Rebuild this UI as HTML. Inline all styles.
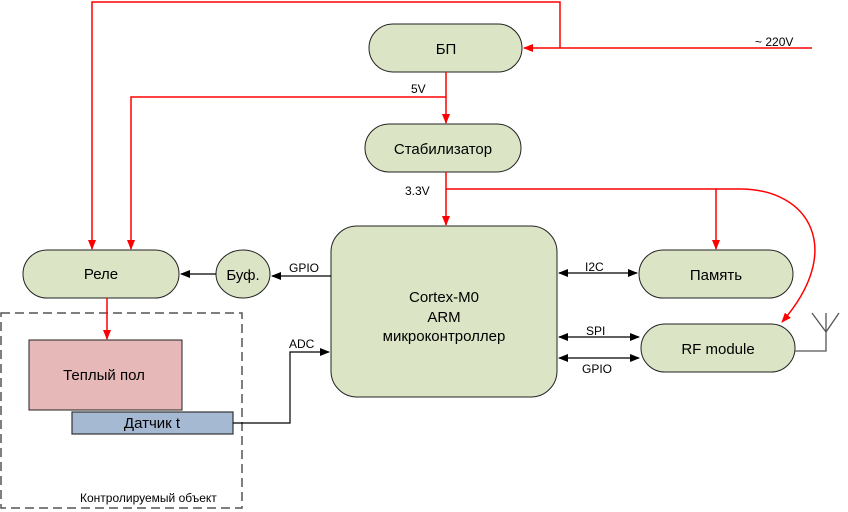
<!DOCTYPE html>
<html><head><meta charset="utf-8"><style>
html,body{margin:0;padding:0;background:#fff;}
svg{display:block;font-family:"Liberation Sans",sans-serif;}
</style></head><body>
<svg width="848" height="512" viewBox="0 0 848 512" xmlns="http://www.w3.org/2000/svg">
<defs>
<marker id="ra" markerWidth="10" markerHeight="10" refX="9" refY="5" orient="auto" markerUnits="userSpaceOnUse"><path d="M0,1 L10,5 L0,9 z" fill="#ff0000"/></marker>
<marker id="ba" markerWidth="10" markerHeight="10" refX="9" refY="5" orient="auto" markerUnits="userSpaceOnUse"><path d="M0,1 L10,5 L0,9 z" fill="#000"/></marker>
<marker id="bs" markerWidth="10" markerHeight="10" refX="1" refY="5" orient="auto" markerUnits="userSpaceOnUse"><path d="M10,1 L0,5 L10,9 z" fill="#000"/></marker>
</defs>
<g fill="#dbe5c6" stroke="#222" stroke-width="1">
<rect x="369" y="24" width="153" height="48" rx="24"/>
<rect x="365" y="124" width="156" height="48" rx="24"/>
<rect x="331" y="226" width="226" height="171" rx="26"/>
<rect x="23" y="250" width="156" height="48" rx="24"/>
<rect x="216" y="250" width="54" height="48" rx="27"/>
<rect x="639" y="250" width="154" height="48" rx="24"/>
<rect x="641" y="324" width="154" height="48" rx="24"/>
</g>
<rect x="1" y="313" width="241" height="195" fill="none" stroke="#555" stroke-width="1.5" stroke-dasharray="9,5"/>
<rect x="29" y="340" width="153" height="70" fill="#e6b8b7" stroke="#222"/>
<rect x="72" y="412" width="161" height="22" fill="#a6b9d3" stroke="#333" stroke-width="1.2"/>
<g stroke="#ff0000" stroke-width="1.5" fill="none">
<path d="M812,48 L524,48" marker-end="url(#ra)"/>
<path d="M560,48 L560,2 L92,2 L92,249" marker-end="url(#ra)"/>
<path d="M446,72 L446,123" marker-end="url(#ra)"/>
<path d="M446,97 L131,97 L131,249" marker-end="url(#ra)"/>
<path d="M446,172 L446,225" marker-end="url(#ra)"/>
<path d="M446,189 L716,189 L716,249" marker-end="url(#ra)"/>
<path d="M716,189 L740,189 C810,189 845,250 782,322" marker-end="url(#ra)"/>
<path d="M107,298 L107,339" marker-end="url(#ra)"/>
</g>
<g stroke="#000" stroke-width="1.2" fill="none">
<path d="M331,276 L272,276" marker-end="url(#ba)"/>
<path d="M216,274 L181,274" marker-end="url(#ba)"/>
<path d="M559,273 L637,273" marker-start="url(#bs)" marker-end="url(#ba)"/>
<path d="M559,337 L639,337" marker-start="url(#bs)" marker-end="url(#ba)"/>
<path d="M559,358 L639,358" marker-start="url(#bs)" marker-end="url(#ba)"/>
<path d="M233,423 L290,423 L290,352 L329,352" marker-end="url(#ba)"/>
</g>
<g stroke="#555" stroke-width="1.3" fill="none">
<path d="M795,351 L826,351 L826,313"/>
<path d="M812,313 L826,332 L839,313"/>
</g>
<g font-size="15" text-anchor="middle" fill="#000">
<text x="446" y="54">БП</text>
<text x="443" y="154">Стабилизатор</text>
<text x="101" y="279">Реле</text>
<text x="243" y="280">Буф.</text>
<text x="716" y="280">Память</text>
<text x="718" y="354">RF module</text>
<text x="444" y="302">Cortex-M0</text>
<text x="444" y="322">ARM</text>
<text x="444" y="341">микроконтроллер</text>
<text x="104" y="380">Теплый пол</text>
<text x="152" y="428">Датчик t</text>
</g>
<g font-size="12" fill="#000">
<text x="755" y="46">~ 220V</text>
<text x="411" y="93">5V</text>
<text x="405" y="195">3.3V</text>
<text x="289" y="272">GPIO</text>
<text x="585" y="271">I2C</text>
<text x="586" y="335">SPI</text>
<text x="582" y="373">GPIO</text>
<text x="289" y="348">ADC</text>
<text x="80" y="502">Контролируемый объект</text>
</g>
</svg>
</body></html>
